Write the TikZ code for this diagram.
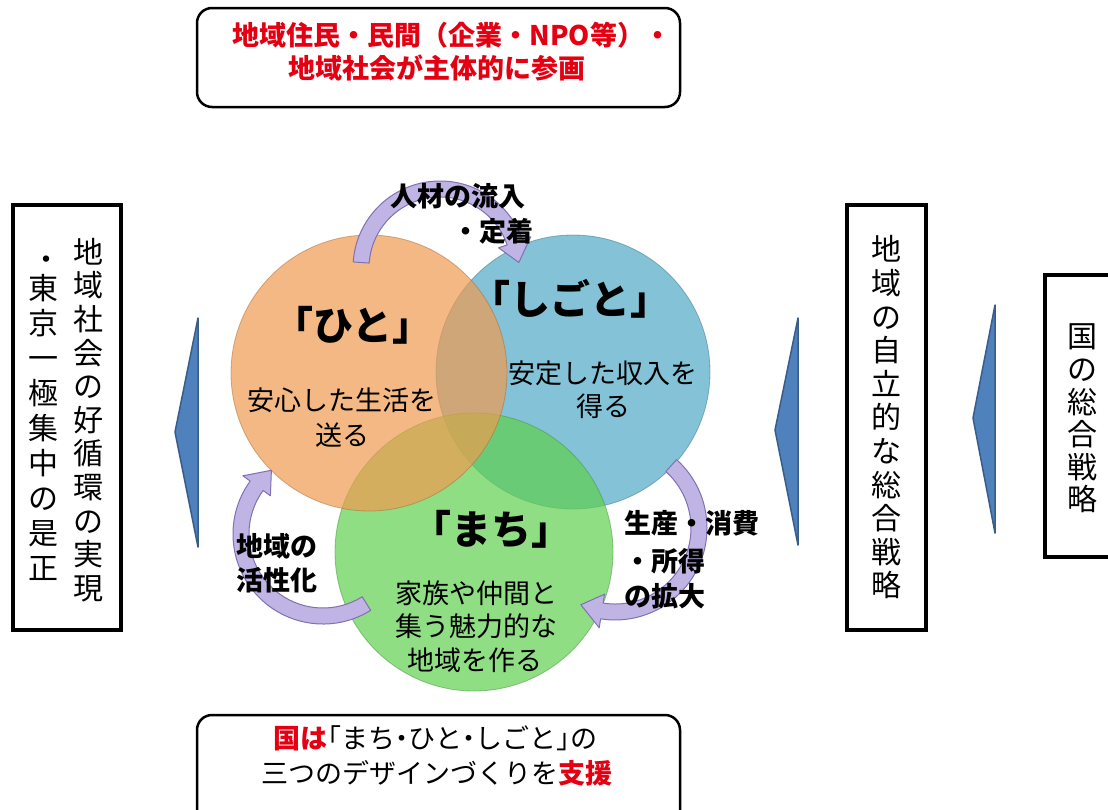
\documentclass[tikz,border=0pt]{standalone}
\usepackage{fontspec}
\setmainfont{Noto Sans CJK JP}
\definecolor{hitoC}{RGB}{239,155,79}
\definecolor{shigotoC}{RGB}{79,169,199}
\definecolor{machiC}{RGB}{96,208,79}
\definecolor{arrowF}{RGB}{192,180,228}
\definecolor{arrowD}{RGB}{128,112,180}
\definecolor{triF}{RGB}{79,129,189}
\definecolor{triD}{RGB}{56,93,138}
\definecolor{jred}{RGB}{228,0,18}
\newcommand\hw[1]{{\addfontfeature{RawFeature=+halt}#1}}
\newcommand\bentarrow[6]{%
  \draw[arrowsty, shift={(#1,#2)}]
    ({#4}:{(#3+8)*1pt}) arc[start angle=#4, end angle=#5, radius={(#3+8)*1pt}]
    -- ({#5}:{(#3+17)*1pt}) -- ({#6}:{(#3)*1pt}) -- ({#5}:{(#3-17)*1pt})
    -- ({#5}:{(#3-8)*1pt}) arc[start angle=#5, end angle=#4, radius={(#3-8)*1pt}]
    -- cycle;}
\tikzset{
  ring/.style={circle, inner sep=0pt, fill opacity=0.7, draw opacity=0.5, line width=0.8pt},
  title/.style={font=\fontsize{40}{46}\bfseries\selectfont, inner sep=0pt, text height=0.88em, text depth=0.12em},
  body/.style={font=\fontsize{27}{32}\selectfont, inner sep=0pt, text height=0.88em, text depth=0.12em},
  lbl/.style={font=\fontsize{27}{32}\bfseries\selectfont, inner sep=0pt, text height=0.88em, text depth=0.12em},
  boxtxt/.style={font=\fontsize{27}{32}\selectfont, inner sep=0pt, text height=0.88em, text depth=0.12em},
  vbox/.style={draw=black, line width=3.5pt, inner sep=0pt},
  vtext/.style={align=center, inner sep=0pt, font=\fontsize{30}{33.6}\selectfont},
  rbox/.style={draw=black, line width=2.5pt, rounded corners=15pt, inner sep=0pt},
  tri/.style={fill=triF, draw=triD, line width=1.5pt, line join=round},
  arrowsty/.style={fill=arrowF, draw=arrowD, line width=1pt, line join=round}
}
\begin{document}
\begin{tikzpicture}[x=1pt,y=1pt]
\useasboundingbox (0,0) rectangle (1108,-809);
\fill[white] (0,0) rectangle (1108,-809);

% top and bottom boxes
\node[rbox, minimum width=483pt, minimum height=99pt] (topbox) at (438.5,-57.5) {};
\node[boxtxt, text=jred, font=\fontsize{27}{32}\bfseries\selectfont] (top1) at (452,-42) {地域住民・民間（企業・NPO等）・};
\node[boxtxt, text=jred, font=\fontsize{27}{32}\bfseries\selectfont] (top2) at (437,-75) {地域社会が主体的に参画};

\node[rbox, minimum width=483pt, minimum height=115pt] (botbox) at (438.5,-772.5) {};
\node[boxtxt] (bot1) at (435.5,-745) {\textcolor{jred}{\bfseries 国は}\hw{「}まち\hw{・}ひと\hw{・}しごと\hw{」}の};
\node[boxtxt] (bot2) at (437,-780) {三つのデザインづくりを\textcolor{jred}{\bfseries 支援}};

% side boxes
\node[vbox, minimum width=108pt, minimum height=425pt] (lbox) at (67,-417.5) {};
\node[vtext] (lcol1) at (88,-420) {地\\域\\社\\会\\の\\好\\循\\環\\の\\実\\現};
\node[vtext, font=\fontsize{30}{35}\selectfont] (lcol2) at (43,-427) {東\\京\\一\\極\\集\\中\\の\\是\\正};
\node[inner sep=0pt, font=\fontsize{30}{35}\selectfont] (ldot) at (46,-263) {・};

\node[vbox, minimum width=79pt, minimum height=425pt] (mbox) at (886.5,-417.5) {};
\node[vtext] (mcol) at (886,-417.5) {地\\域\\の\\自\\立\\的\\な\\総\\合\\戦\\略};

\node[vbox, minimum width=80pt, minimum height=282pt, anchor=north west] (rbox) at (1043,-273) {};
\node[vtext, font=\fontsize{30}{32.6}\selectfont] (rcol) at (1082,-418.5) {国\\の\\総\\合\\戦\\略};

% blue arrowheads
\draw[tri] (198,-318) -- (175,-432) -- (198,-547) -- cycle;
\draw[tri] (798,-318) -- (775,-430) -- (798,-545) -- cycle;
\draw[tri] (995,-305) -- (973,-418) -- (995,-533) -- cycle;

% circles
\node[ring, fill=shigotoC, draw=shigotoC!70!black, minimum size=274pt] (shigoto) at (573,-372) {};
\node[ring, fill=machiC, draw=machiC!70!black, minimum size=278pt] (machi) at (474,-552) {};
\node[ring, fill=hitoC, draw=hitoC!70!black, minimum size=276pt] (hito) at (369,-373) {};

% curved arrows
\bentarrow{440}{-268}{79}{176}{19}{4}
\bentarrow{615}{-528}{84}{48}{-99}{-114}
\bentarrow{323}{-534}{82}{-58}{-216}{-231}

% circle texts
\node[title] (hitoT) at (353,-337) {「ひと」};
\node[body] (hitoB1) at (342,-407) {安心した生活を};
\node[body] (hitoB2) at (342,-442) {送る};
\node[title] (shigotoT) at (570,-311) {「しごと」};
\node[body] (shigotoB1) at (603,-380) {安定した収入を};
\node[body] (shigotoB2) at (603,-413) {得る};
\node[title] (machiT) at (491,-541) {「まち」};
\node[body] (machiB1) at (476,-600) {家族や仲間と};
\node[body] (machiB2) at (476,-633) {集う魅力的な};
\node[body] (machiB3) at (475,-667) {地域を作る};

% arrow labels
\node[lbl, anchor=east] (l1a) at (526,-203) {人材の流入};
\node[lbl, anchor=east] (l1b) at (534,-238) {・定着};
\node[lbl, anchor=west] (l2a) at (624,-530) {生産・消費};
\node[lbl, anchor=west] (l2b) at (624,-568) {・所得};
\node[lbl, anchor=west] (l2c) at (624,-603) {の拡大};
\node[lbl, anchor=west] (l3a) at (236,-553) {地域の};
\node[lbl, anchor=west] (l3b) at (236,-587) {活性化};
\end{tikzpicture}
\end{document}
